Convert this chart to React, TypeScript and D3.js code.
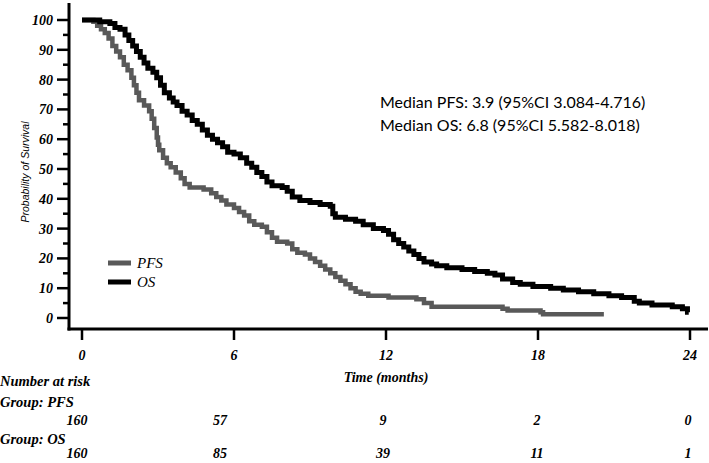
import React from "react";
import * as d3 from "d3";

const osTimes = [0, 0.7, 1.1, 1.3, 1.5, 1.7, 1.85, 2.0, 2.15, 2.3, 2.45, 2.6, 2.8, 2.95, 3.1, 3.25, 3.45, 3.6, 3.75, 3.95, 4.15, 4.35, 4.55, 4.75, 4.95, 5.15, 5.35, 5.55, 5.75, 6.0, 6.25, 6.5, 6.7, 6.9, 7.1, 7.3, 7.5, 7.9, 8.1, 8.3, 8.6, 9.0, 9.4, 9.8, 9.9, 10.0, 10.4, 10.8, 11.1, 11.5, 11.9, 12.1, 12.3, 12.5, 12.7, 12.9, 13.1, 13.3, 13.5, 13.8, 14.0, 14.4, 15.0, 15.5, 16.0, 16.3, 16.6, 17.0, 17.3, 17.8, 18.5, 19.0, 19.6, 20.2, 20.8, 21.3, 21.8, 22.0, 22.5, 23.3, 23.7, 23.9, 23.95];
const osSurv = [100, 99.4, 98.8, 97.5, 96.9, 95, 93.1, 91.3, 89.4, 87.5, 85.6, 83.8, 82.5, 80.6, 78.1, 75.6, 73.8, 72.5, 71.3, 69.4, 68.1, 66.3, 65, 63.1, 61.3, 60, 58.8, 57.5, 55.6, 55, 53.8, 51.9, 50.6, 48.8, 47.5, 45.6, 44.4, 43.8, 42.5, 40.6, 39.4, 38.8, 38.1, 37.5, 35, 33.8, 33.1, 32.5, 31.3, 30, 29.4, 28.1, 26.3, 25, 23.8, 22.5, 21.3, 20, 18.8, 18.1, 17.5, 16.9, 16.3, 15.6, 15, 14.4, 13.1, 11.9, 11.3, 10.6, 10, 9.4, 8.8, 8.1, 7.5, 6.9, 5.6, 5, 4.4, 3.8, 3.1, 1.9, 1.9];

const pfsTimes = [0, 0.45, 0.6, 0.75, 0.9, 1.05, 1.2, 1.35, 1.5, 1.65, 1.8, 1.95, 2.05, 2.15, 2.25, 2.45, 2.65, 2.75, 2.85, 2.95, 3.0, 3.05, 3.2, 3.35, 3.5, 3.7, 3.9, 4.05, 4.25, 4.8, 5.1, 5.3, 5.5, 5.7, 6.0, 6.2, 6.4, 6.6, 6.8, 7.1, 7.3, 7.5, 7.7, 8.1, 8.3, 8.5, 8.8, 9.0, 9.2, 9.4, 9.6, 9.8, 10.0, 10.2, 10.4, 10.6, 10.8, 11.0, 11.3, 12.1, 13.2, 13.5, 13.8, 16.6, 16.8, 18.1, 18.2, 20.6];
const pfsSurv = [100, 99.4, 98.1, 96.9, 95.6, 93.8, 91.3, 89.4, 87.5, 85, 83.1, 80.6, 78.1, 75.6, 73.1, 71.3, 69.4, 66.9, 63.8, 60.6, 58.1, 56.3, 53.8, 51.9, 50.6, 48.8, 46.9, 45, 43.8, 43.1, 41.9, 40.6, 39.4, 38.1, 36.9, 35.6, 34.4, 32.5, 31.3, 30.6, 28.8, 26.9, 25.6, 25, 23.1, 21.9, 21.3, 20, 18.8, 17.5, 16.3, 15, 13.8, 12.5, 11.3, 10, 8.8, 8.1, 7.5, 6.9, 6.3, 5.0, 3.8, 3.1, 2.5, 1.9, 1.3, 1.3];

const xTicks = [0, 6, 12, 18, 24];
const yMajor = [0, 10, 20, 30, 40, 50, 60, 70, 80, 90, 100];
const yMinor = [5, 15, 25, 35, 45, 55, 65, 75, 85, 95];
const riskPFS = [160, 57, 9, 2, 0];
const riskOS = [160, 85, 39, 11, 1];
const riskOffsets = [-5, -14, -3, -1, -2];
const annotations = ["Median PFS: 3.9 (95%CI 3.084-4.716)", "Median OS: 6.8 (95%CI 5.582-8.018)"];

const serif = "'Liberation Serif', 'Times New Roman', serif";

export default function App() {
  const x = d3.scaleLinear().domain([0, 24]).range([82, 690]);
  const y = d3.scaleLinear().domain([0, 100]).range([318, 20]);
  const line = d3
    .line<[number, number]>()
    .x((d) => x(d[0]))
    .y((d) => y(d[1]))
    .curve(d3.curveStepAfter);
  const osPts = osTimes.map((t, i) => [t, osSurv[i]] as [number, number]);
  const pfsPts = pfsTimes.map((t, i) => [t, pfsSurv[i]] as [number, number]);
  const axisY = 329;
  const axisX = 69;

  return (
    <svg width={709} height={463} style={{ position: "absolute", left: 0, top: 0, background: "#fff" }}>
      <rect width={709} height={463} fill="#fff" />
      {/* curves */}
      <path d={line(pfsPts) || ""} fill="none" stroke="#595959" strokeWidth={4.5} strokeLinejoin="miter" />
      <path d={line(osPts) || ""} fill="none" stroke="#000" strokeWidth={5} strokeLinejoin="miter" />
      {/* y axis */}
      <line x1={axisX} x2={axisX} y1={3} y2={axisY + 1.5} stroke="#000" strokeWidth={3} />
      {yMajor.map((v) => (
        <g key={"ym" + v}>
          <line x1={axisX - 12} x2={axisX} y1={y(v)} y2={y(v)} stroke="#000" strokeWidth={2.5} />
          <text x={axisX - 16} y={y(v)} dy="0.35em" textAnchor="end" fontFamily={serif} fontStyle="italic" fontWeight="bold" fontSize={14}>
            {v}
          </text>
        </g>
      ))}
      {yMinor.map((v) => (
        <line key={"yn" + v} x1={axisX - 6} x2={axisX} y1={y(v)} y2={y(v)} stroke="#000" strokeWidth={2.5} />
      ))}
      {/* x axis */}
      <line x1={axisX - 1.5} x2={708} y1={axisY} y2={axisY} stroke="#000" strokeWidth={3} />
      {xTicks.map((t) => (
        <g key={"xt" + t}>
          <line x1={x(t)} x2={x(t)} y1={axisY} y2={axisY + 11} stroke="#000" strokeWidth={2.5} />
          <text x={x(t)} y={360} textAnchor="middle" fontFamily={serif} fontStyle="italic" fontWeight="bold" fontSize={14}>
            {t}
          </text>
        </g>
      ))}
      <text x={x(12)} y={382} textAnchor="middle" fontFamily={serif} fontStyle="italic" fontWeight="bold" fontSize={14}>
        Time (months)
      </text>
      {/* y label */}
      <text
        transform={`translate(29,${y(50) + 3}) rotate(-90)`}
        textAnchor="middle"
        fontFamily="'Liberation Sans', Arial, sans-serif"
        fontStyle="italic"
        fontSize={10.5}
      >
        Probability  of Survival
      </text>
      {/* legend */}
      <line x1={108} x2={131} y1={263} y2={263} stroke="#595959" strokeWidth={5} />
      <line x1={108} x2={131} y1={282} y2={282} stroke="#000" strokeWidth={5} />
      <text x={137} y={268} fontFamily={serif} fontStyle="italic" fontSize={15}>PFS</text>
      <text x={137} y={287} fontFamily={serif} fontStyle="italic" fontSize={15}>OS</text>
      {/* annotations */}
      {annotations.map((a, i) => (
        <text key={a} x={380} y={108 + i * 23} fontFamily="Lato, 'Open Sans', sans-serif" fontSize={16}>
          {a}
        </text>
      ))}
      {/* risk table */}
      <text x={0} y={386} fontFamily={serif} fontStyle="italic" fontWeight="bold" fontSize={14.5}>Number at risk</text>
      <text x={0} y={407} fontFamily={serif} fontStyle="italic" fontWeight="bold" fontSize={14.5}>Group: PFS</text>
      <text x={0} y={444} fontFamily={serif} fontStyle="italic" fontWeight="bold" fontSize={14.5}>Group: OS</text>
      {riskPFS.map((n, i) => (
        <text key={"rp" + i} x={x(xTicks[i]) + riskOffsets[i]} y={425} textAnchor="middle" fontFamily={serif} fontStyle="italic" fontWeight="bold" fontSize={14}>
          {n}
        </text>
      ))}
      {riskOS.map((n, i) => (
        <text key={"ro" + i} x={x(xTicks[i]) + riskOffsets[i]} y={458} textAnchor="middle" fontFamily={serif} fontStyle="italic" fontWeight="bold" fontSize={14}>
          {n}
        </text>
      ))}
    </svg>
  );
}
